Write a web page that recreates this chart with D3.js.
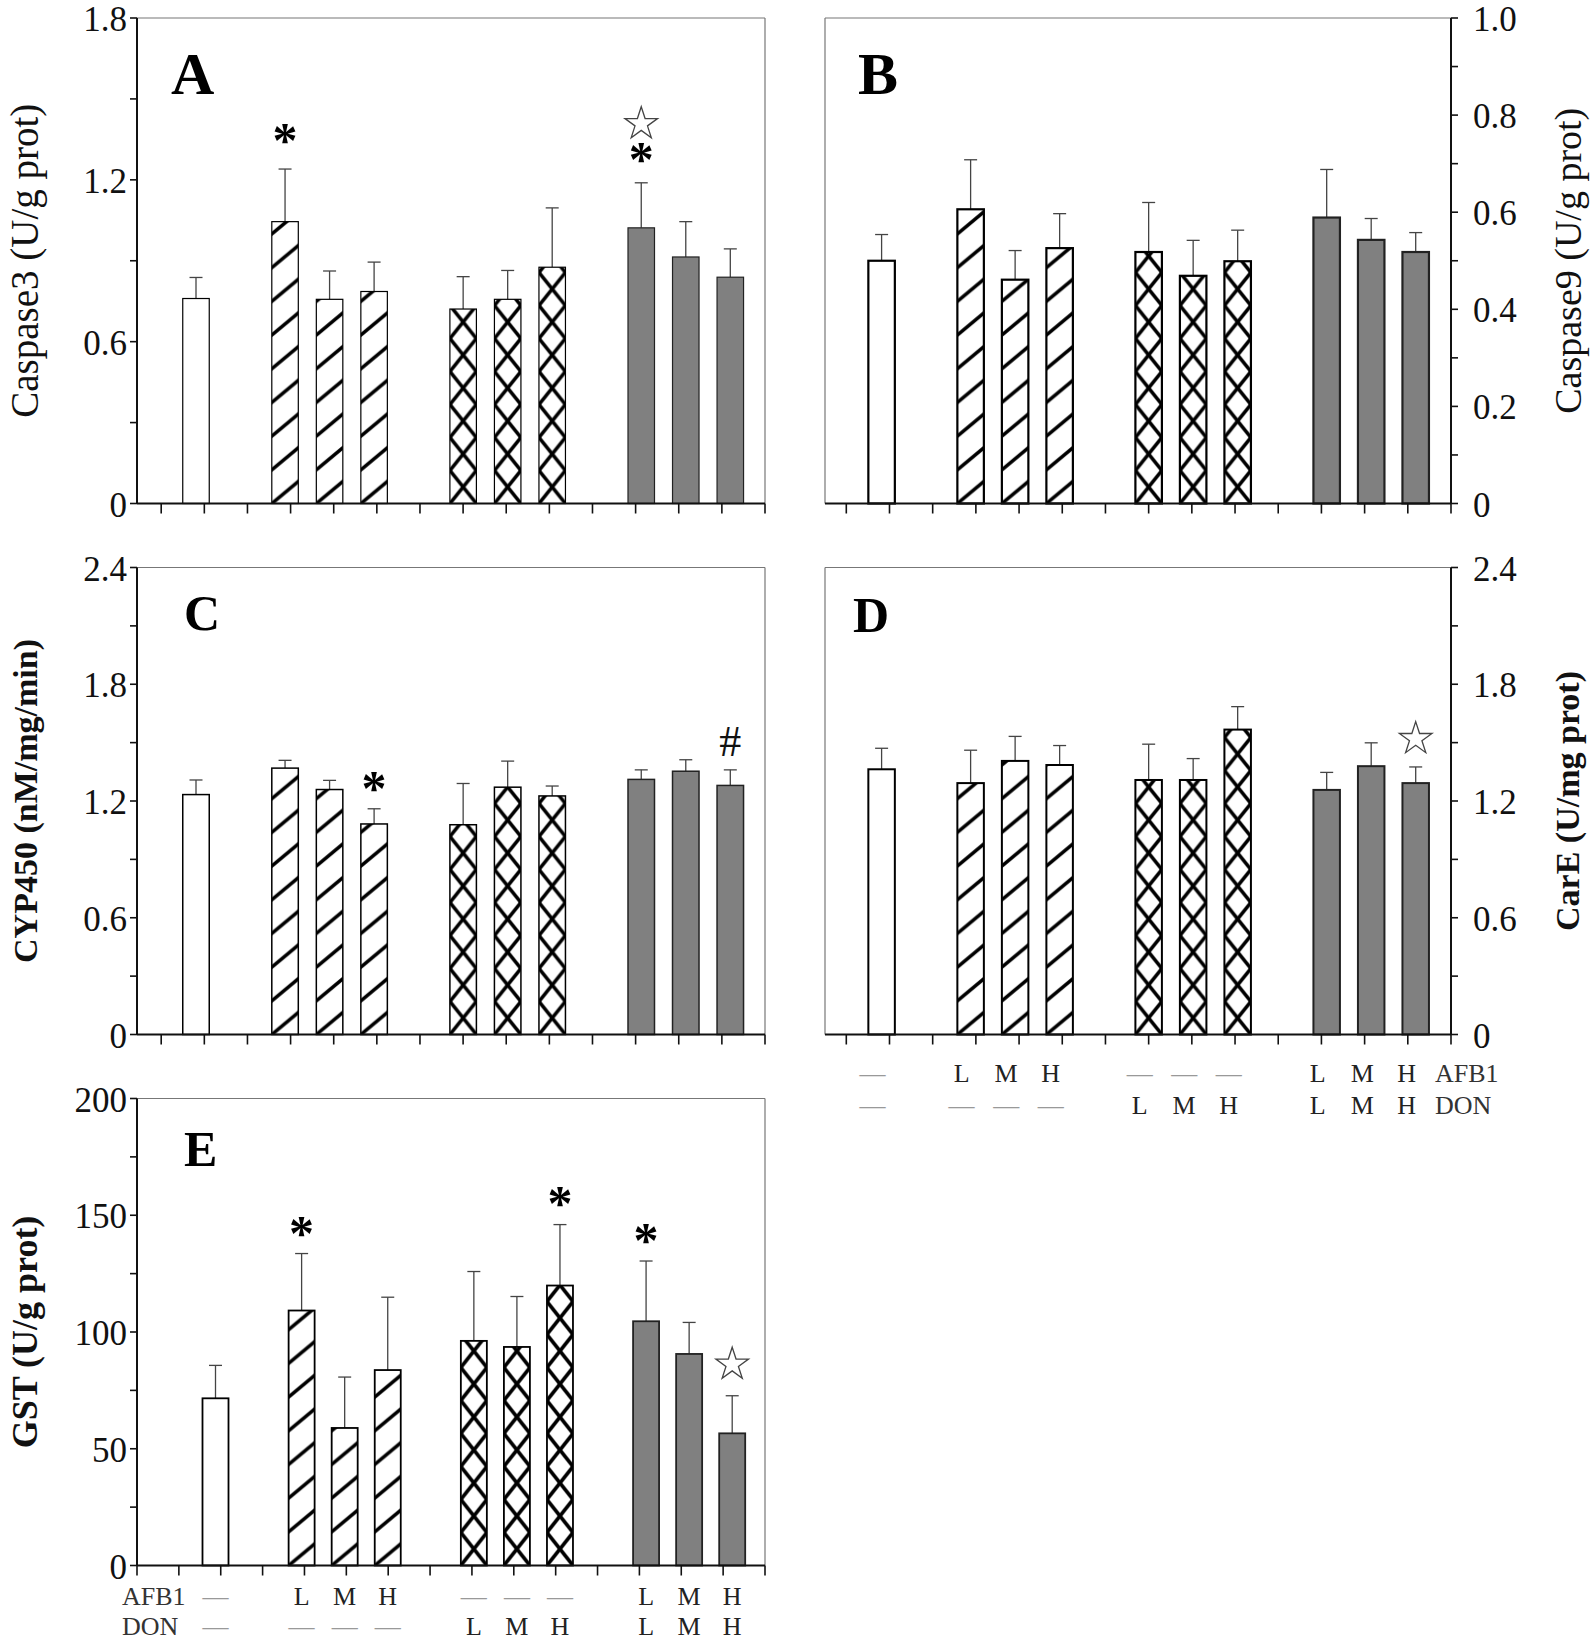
<!DOCTYPE html>
<html><head><meta charset="utf-8">
<script src="https://cdn.jsdelivr.net/npm/d3@7"></script>
<style>body{margin:0;background:#fff} svg{display:block}</style>
</head><body>
<svg id="chart" width="1594" height="1642"></svg>
<script>
// ---------------- DATA ----------------
const categories = ["Control","AFB1-L","AFB1-M","AFB1-H","DON-L","DON-M","DON-H","AFB1+DON-L","AFB1+DON-M","AFB1+DON-H"];
const groupOf = ["ctrl","afb1","afb1","afb1","don","don","don","mix","mix","mix"];
const afb1Row = ["—","L","M","H","—","—","—","L","M","H"];
const donRow  = ["—","—","—","—","L","M","H","L","M","H"];

const caspase3    = [0.76, 1.045, 0.757, 0.786, 0.721, 0.757, 0.876, 1.022, 0.914, 0.839];
const caspase3Err = [0.078, 0.195, 0.105, 0.109, 0.120, 0.107, 0.220, 0.167, 0.131, 0.105];
const caspase9    = [0.500, 0.606, 0.461, 0.526, 0.518, 0.469, 0.499, 0.589, 0.543, 0.518];
const caspase9Err = [0.054, 0.102, 0.060, 0.071, 0.102, 0.073, 0.064, 0.099, 0.044, 0.040];
const cyp450       = [1.233, 1.369, 1.259, 1.082, 1.078, 1.271, 1.226, 1.311, 1.353, 1.280];
const cyp450Err    = [0.075, 0.040, 0.047, 0.078, 0.212, 0.134, 0.051, 0.049, 0.059, 0.080];
const carE         = [1.363, 1.292, 1.406, 1.385, 1.308, 1.308, 1.567, 1.257, 1.379, 1.292];
const carEErr      = [0.108, 0.169, 0.126, 0.100, 0.184, 0.110, 0.118, 0.090, 0.120, 0.083];
const gst          = [71.6, 109.2, 58.9, 83.7, 96.2, 93.6, 119.9, 104.6, 90.6, 56.6];
const gstErr       = [14.1, 24.4, 21.8, 31.2, 29.7, 21.6, 26.1, 25.8, 13.5, 16.1];

const marksA = [{i:1, sym:"*", v:1.37}, {i:7, sym:"star", v:1.415}, {i:7, sym:"*", v:1.30}];
const marksB = [];
const marksC = [{i:3, sym:"*", v:1.30}, {i:9, sym:"#", v:1.51}];
const marksD = [{i:9, sym:"star", v:1.53}];
const marksE = [{i:1, sym:"*", v:145}, {i:6, sym:"*", v:158}, {i:7, sym:"*", v:142}, {i:9, sym:"star", v:87}];

// ---------------- LAYOUT ----------------
const FONT = "'Liberation Serif','Times New Roman',serif";
const panels = [
  {id:"A", vals:caspase3, errs:caspase3Err, marks:marksA, max:1.8, step:0.6, title:"Caspase3 (U/g prot)", bold:false, tsize:39,
   x0:137, x1:765, y0:503.5, y1:18, side:"left", bars:[196,730.3], firstTick:161.2, nTick:14, titleX:24, letter:[171,94,60], sw:1.2},
  {id:"B", vals:caspase9, errs:caspase9Err, marks:marksB, max:1.0, step:0.2, title:"Caspase9 (U/g prot)", bold:false, tsize:38,
   x0:825, x1:1451, y0:503.5, y1:18, side:"right", bars:[881.6,1415.7], firstTick:846.3, nTick:14, titleX:1568, letter:[858,94,60], sw:2.2},
  {id:"C", vals:cyp450, errs:cyp450Err, marks:marksC, max:2.4, step:0.6, title:"CYP450 (nM/mg/min)", bold:true, tsize:34,
   x0:137, x1:765, y0:1034.5, y1:567.5, side:"left", bars:[196,730.3], firstTick:161.2, nTick:14, titleX:25, letter:[184,630,50], sw:1.5},
  {id:"D", vals:carE, errs:carEErr, marks:marksD, max:2.4, step:0.6, title:"CarE (U/mg prot)", bold:true, tsize:34,
   x0:825, x1:1451, y0:1034.5, y1:567.5, side:"right", bars:[881.6,1415.7], firstTick:846.3, nTick:14, titleX:1567, letter:[853,632,50], sw:2.0,
   labels:{dx:-9, row1:1082, row2:1114, rowNames:1435}},
  {id:"E", vals:gst, errs:gstErr, marks:marksE, max:200, step:50, title:"GST (U/g prot)", bold:true, tsize:36,
   x0:137, x1:765, y0:1565.5, y1:1098.5, side:"left", bars:[215.5,732.2], firstTick:137, nTick:15, titleX:25, letter:[184,1166,50], sw:1.8,
   labels:{dx:0, row1:1605, row2:1635, rowNames:122}}
];

const svg = d3.select("#chart");
const defs = svg.append("defs");

function hatch(id, x, y, W, H, families, sw) {
  const p = defs.append("pattern").attr("id", id).attr("patternUnits", "userSpaceOnUse")
    .attr("x", x).attr("y", y).attr("width", W).attr("height", H);
  p.append("rect").attr("width", W).attr("height", H).attr("fill", "#fff");
  let d = "";
  for (const s of families) {
    for (const k of [-1, 0, 1]) {
      const c = (s > 0 ? 0 : H) + k * H;
      const xa = -W, xb = 2 * W;
      d += `M${xa},${c + s * H / W * xa}L${xb},${c + s * H / W * xb}`;
    }
  }
  p.append("path").attr("d", d).attr("stroke", "#000").attr("stroke-width", sw).attr("fill", "none");
}

const slotDomain = ["Control","g1","AFB1-L","AFB1-M","AFB1-H","g2","DON-L","DON-M","DON-H","g3","AFB1+DON-L","AFB1+DON-M","AFB1+DON-H"];

panels.forEach(P => {
  const g = svg.append("g");
  const x = d3.scalePoint().domain(slotDomain).range(P.bars);
  const y = d3.scaleLinear().domain([0, P.max]).range([P.y0, P.y1]);
  const xt = d3.scaleLinear().domain([0, P.nTick]).range([P.firstTick, P.x1]);
  const bw = P.id === "E" ? 26 : 26.5;

  // frame (thin borders)
  const thin = "#777";
  g.append("line").attr("x1", P.x0).attr("x2", P.x1).attr("y1", P.y1).attr("y2", P.y1).attr("stroke", thin).attr("stroke-width", 1.2);
  const borderX = P.side === "left" ? P.x1 : P.x0;
  g.append("line").attr("x1", borderX).attr("x2", borderX).attr("y1", P.y1).attr("y2", P.y0).attr("stroke", thin).attr("stroke-width", 1.2);

  // bars
  categories.forEach((c, i) => {
    const cx = x(c), v = P.vals[i];
    const left = cx - bw / 2;
    let fill;
    if (groupOf[i] === "ctrl") fill = "#fff";
    else if (groupOf[i] === "mix") fill = "#808080";
    else if (groupOf[i] === "afb1") {
      const id = `h${P.id}${i}`;
      hatch(id, left, P.y0, 40.6, 33.7, [-1], 3.6);
      fill = `url(#${id})`;
    } else {
      const id = `x${P.id}${i}`;
      hatch(id, left, P.y0, bw, 33, [1, -1], 3.6);
      fill = `url(#${id})`;
    }
    // error bar
    const e = P.errs[i];
    g.append("line").attr("x1", cx).attr("x2", cx).attr("y1", y(v)).attr("y2", y(v + e))
      .attr("stroke", "#444").attr("stroke-width", 1.3);
    g.append("line").attr("x1", cx - 6.5).attr("x2", cx + 6.5).attr("y1", y(v + e)).attr("y2", y(v + e))
      .attr("stroke", "#444").attr("stroke-width", 1.3);
    g.append("rect").attr("x", left).attr("width", bw).attr("y", y(v)).attr("height", y(0) - y(v))
      .attr("fill", fill).attr("stroke", groupOf[i] === "mix" ? "#222" : "#000").attr("stroke-width", P.sw);
  });

  // axes: value axis
  const axisX = P.side === "left" ? P.x0 : P.x1;
  const dir = P.side === "left" ? -1 : 1;
  g.append("line").attr("x1", axisX).attr("x2", axisX).attr("y1", P.y1).attr("y2", P.y0).attr("stroke", "#111").attr("stroke-width", 2);
  const majors = d3.range(0, P.max + P.step / 100, P.step);
  const minors = d3.range(P.step / 2, P.max, P.step);
  majors.concat(minors).forEach(t => {
    g.append("line").attr("x1", axisX).attr("x2", axisX + dir * 7).attr("y1", y(t)).attr("y2", y(t))
      .attr("stroke", "#111").attr("stroke-width", 1.6);
  });
  const fmt = P.max >= 10 ? d3.format("d") : d3.format(".1f");
  majors.forEach(t => {
    g.append("text").attr("x", axisX + dir * (P.side === "left" ? 10 : 22)).attr("y", y(t) + 13)
      .attr("text-anchor", P.side === "left" ? "end" : "start")
      .attr("font-family", FONT).attr("font-size", 35).attr("fill", "#111")
      .text(t === 0 ? "0" : fmt(t));
  });

  // category axis (bottom)
  g.append("line").attr("x1", P.x0).attr("x2", P.x1).attr("y1", P.y0).attr("y2", P.y0).attr("stroke", "#111").attr("stroke-width", 2);
  d3.range(0, P.nTick + 1).forEach(k => {
    g.append("line").attr("x1", xt(k)).attr("x2", xt(k)).attr("y1", P.y0).attr("y2", P.y0 + 10)
      .attr("stroke", "#111").attr("stroke-width", 1.6);
  });

  // axis title
  const ty = (P.y0 + P.y1) / 2;
  g.append("text").attr("transform", `translate(${P.titleX},${ty}) rotate(-90)`)
    .attr("text-anchor", "middle").attr("dominant-baseline", "central")
    .attr("font-family", FONT).attr("font-size", P.tsize).attr("font-weight", P.bold ? "bold" : "normal")
    .attr("fill", "#111").text(P.title);

  // panel letter
  g.append("text").attr("x", P.letter[0]).attr("y", P.letter[1]).attr("font-family", FONT)
    .attr("font-size", P.letter[2]).attr("font-weight", "bold").attr("fill", "#000").text(P.id);

  // significance marks
  P.marks.forEach(m => {
    const cx = x(categories[m.i]), cy = y(m.v);
    if (m.sym === "star") {
      g.append("path").attr("d", d3.symbol(d3.symbolStar, 330)()).attr("transform", `translate(${cx},${cy + 2})`)
        .attr("fill", "#fff").attr("stroke", "#444").attr("stroke-width", 1.3);
    } else if (m.sym === "*") {
      g.append("text").attr("x", cx).attr("y", cy + 23).attr("text-anchor", "middle").attr("font-family", FONT)
        .attr("font-size", 50).attr("font-weight", "bold").attr("fill", "#000").text("*");
    } else {
      g.append("text").attr("x", cx).attr("y", cy + 15).attr("text-anchor", "middle").attr("font-family", FONT)
        .attr("font-size", 44).attr("fill", "#111").text(m.sym);
    }
  });

  // group labels
  if (P.labels) {
    const L = P.labels;
    [[afb1Row, L.row1, "AFB1"], [donRow, L.row2, "DON"]].forEach(([row, yy, name]) => {
      row.forEach((s, i) => {
        g.append("text").attr("x", x(categories[i]) + L.dx).attr("y", yy).attr("text-anchor", "middle")
          .attr("font-family", FONT).attr("font-size", 26).attr("fill", s === "—" ? "#999" : "#222").text(s);
      });
      g.append("text").attr("x", L.rowNames).attr("y", yy).attr("text-anchor", "start")
        .attr("font-family", FONT).attr("font-size", 26).attr("fill", "#333").text(name);
    });
  }
});
</script>
</body></html>
